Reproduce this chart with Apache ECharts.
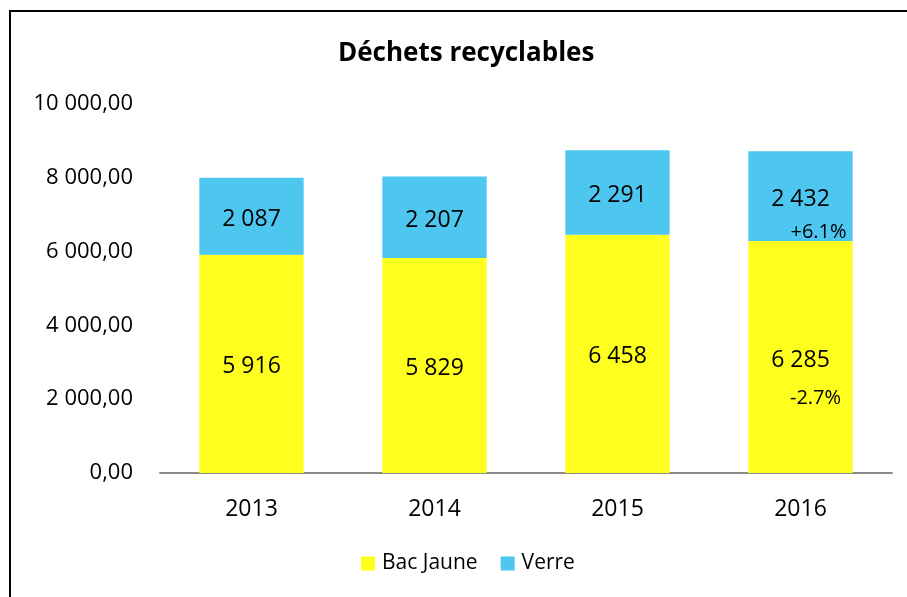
<!DOCTYPE html>
<html lang="fr">
<head>
    <meta charset="UTF-8">
    <title>Déchets recyclables</title>
    <script src="https://cdn.jsdelivr.net/npm/echarts@6/dist/echarts.min.js"></script>
<style>
    body {
        margin: 0;
        padding: 0;
        background: #fff;
    }
    #frame {
        position: absolute;
        left: 9px;
        top: 10px;
        width: 950px;
        height: 700px;
        border: 2px solid #000;
        border-bottom: none;
        border-right: none;
    }
    #main {
        position: absolute;
        top: 0;
        left: 0;
    }
</style>
</head>
<body>
        <div id="frame"></div>
        <div id="main" style="width: 907px;height:597px;"></div>
        <script type="text/javascript">
            var years = ['2013', '2014', '2015', '2016'];
            var bacJaune = [5916, 5829, 6458, 6285];
            var verre = [2087, 2207, 2291, 2432];
            // variations 2016 vs 2015, placées dans les barres
            var varVerre = {label: '+6.1%', y: 6530};
            var varBac = {label: '-2.7%', y: 2030};

            // format français : 10 000,00
            function fr(v, dec) {
                var s = v.toFixed(dec);
                var parts = s.split('.');
                var ent = parts[0].replace(/\B(?=(\d{3})+(?!\d))/g, ' ');
                return dec ? ent + ',' + parts[1] : ent;
            }

            var myChart = echarts.init(document.getElementById('main'));
            var labelStyle = {
                show: true,
                position: 'inside',
                offset: [0, 3],
                color: '#000',
                fontFamily: 'Open Sans',
                fontSize: 23,
                formatter: function (p) { return fr(p.value, 0); }
            };
            function mark(m, dx) {
                return {
                    symbolSize: 0,
                    data: [{
                        coord: [years[3], m.y],
                        label: {
                            show: true,
                            formatter: m.label,
                            position: 'inside',
                            offset: [dx, 0],
                            color: '#000',
                            fontFamily: 'Open Sans',
                            fontSize: 20
                        }
                    }]
                };
            }
            option = {
                backgroundColor: 'transparent',
                animation: false,
                title: {
                    text: 'Déchets recyclables',
                    left: 333,
                    top: 36,
                    textStyle: {
                        fontFamily: 'Open Sans',
                        fontWeight: 'bold',
                        fontSize: 26,
                        color: '#000'
                    }
                },
                legend: {
                    top: 548,
                    left: 356,
                    itemWidth: 14,
                    itemHeight: 14,
                    itemGap: 23,
                    icon: 'rect',
                    textStyle: {fontFamily: 'Open Sans', fontSize: 21, color: '#000', padding: [0, 0, 0, 2]},
                    data: ['Bac Jaune', 'Verre']
                },
                grid: {
                    left: 160,
                    right: 15,
                    top: 104,
                    bottom: 124
                },
                xAxis: {
                    type: 'category',
                    data: years,
                    axisTick: {show: false},
                    axisLine: {lineStyle: {color: '#8c8c8c', width: 2}},
                    axisLabel: {
                        color: '#000',
                        fontFamily: 'Open Sans',
                        fontSize: 23,
                        margin: 25
                    }
                },
                yAxis: {
                    type: 'value',
                    min: 0,
                    max: 10000,
                    interval: 2000,
                    splitLine: {show: false},
                    axisLine: {show: false},
                    axisTick: {show: false},
                    axisLabel: {
                        color: '#000',
                        fontFamily: 'Open Sans',
                        fontSize: 22,
                        margin: 27,
                        formatter: function (v) { return fr(v, 2); }
                    }
                },
                series: [{
                    name: 'Bac Jaune',
                    type: 'bar',
                    stack: 'total',
                    barWidth: '57%',
                    data: bacJaune,
                    itemStyle: {color: '#FFFF1F'},
                    label: labelStyle,
                    markPoint: mark(varBac, 15)
                }, {
                    name: 'Verre',
                    type: 'bar',
                    stack: 'total',
                    data: verre,
                    itemStyle: {color: '#4DC6F0'},
                    label: labelStyle,
                    markPoint: mark(varVerre, 18)
                }]
            };
            myChart.setOption(option);
        </script>
</body>
</html>
